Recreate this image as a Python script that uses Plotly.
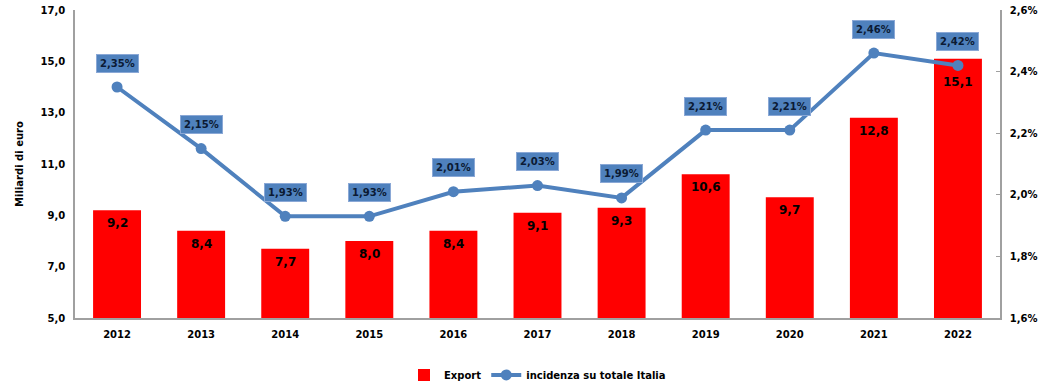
import plotly.graph_objects as go

years = ["2012", "2013", "2014", "2015", "2016", "2017", "2018", "2019", "2020", "2021", "2022"]
export_vals = [9.2, 8.4, 7.7, 8.0, 8.4, 9.1, 9.3, 10.6, 9.7, 12.8, 15.1]
incidenza = [2.35, 2.15, 1.93, 1.93, 2.01, 2.03, 1.99, 2.21, 2.21, 2.46, 2.42]

FONT = "DejaVu Sans"
fmt1 = lambda v: f"{v:.1f}".replace(".", ",")
fmt2 = lambda v: f"{v:.2f}".replace(".", ",") + "%"
xpos = list(range(len(years)))

fig = go.Figure()
fig.add_trace(go.Bar(
    x=xpos, y=export_vals, name="Export",
    marker=dict(color="#FF0000", line=dict(width=0)),
    width=0.57,
))
fig.add_trace(go.Scatter(
    x=xpos, y=incidenza, name="incidenza su totale Italia",
    yaxis="y2", mode="lines+markers",
    line=dict(color="#4F81BD", width=4),
    marker=dict(color="#4F81BD", size=11),
))

# bar value labels (inside end)
for i, (xp, v) in enumerate(zip(xpos, export_vals)):
    shift = -23 if i == len(xpos) - 1 else -13
    fig.add_annotation(
        x=xp, y=v, xref="x", yref="y", text="<b>" + fmt1(v) + "</b>",
        showarrow=False, yshift=shift,
        font=dict(family=FONT, size=12, color="black"),
    )

# line value labels
for xp, v in zip(xpos, incidenza):
    fig.add_annotation(
        x=xp, y=v, xref="x", yref="y2", text="<b>" + fmt2(v) + "</b>",
        showarrow=False, yshift=24,
        bgcolor="#4F81BD", bordercolor="#8AA8D6", borderwidth=1, borderpad=3,
        font=dict(family=FONT, size=10, color="#0B1A33"),
    )

fig.update_layout(
    width=1049, height=391,
    margin=dict(l=75, r=49, t=10, b=73),
    paper_bgcolor="white", plot_bgcolor="white",
    separators=",.",
    font=dict(family=FONT, size=10, color="black"),
    xaxis=dict(
        range=[-0.5, len(years) - 0.5], automargin=False,
        tickmode="array", tickvals=xpos, ticktext=years,
        showline=True, linecolor="#A0A0A0", linewidth=1.5,
        showgrid=False, zeroline=False, ticks="", ticklabelstandoff=6,
        tickfont=dict(family=FONT, size=10, color="black", weight="bold"),
    ),
    yaxis=dict(
        range=[5, 17], tick0=5, dtick=2, tickformat=".1f", automargin=False,
        showline=True, linecolor="#A0A0A0", linewidth=1.5,
        showgrid=False, zeroline=False, ticks="", ticklabelstandoff=6,
        ticklabeloverflow="allow",
        tickfont=dict(family=FONT, size=10, color="black", weight="bold"),
        title=dict(text="Miliardi di euro",
                   font=dict(family=FONT, size=10, color="black", weight="bold"), standoff=15),
    ),
    yaxis2=dict(
        range=[1.6, 2.6], tick0=1.6, dtick=0.2, tickformat=".1f", ticksuffix="%",
        overlaying="y", side="right", automargin=False,
        showline=True, linecolor="#A0A0A0", linewidth=1.5,
        showgrid=False, zeroline=False, ticks="inside", ticklen=4, tickcolor="#A0A0A0",
        ticklabelstandoff=6, ticklabeloverflow="allow",
        tickfont=dict(family=FONT, size=10, color="black", weight="bold"),
    ),
    legend=dict(
        orientation="h", x=0.5, xanchor="center",
        yref="container", y=0.041, yanchor="middle",
        font=dict(family=FONT, size=10, color="black", weight="bold"),
    ),
)

fig.write_html("out.html", config={"displayModeBar": False},
               post_script="document.body.style.margin='0';")
